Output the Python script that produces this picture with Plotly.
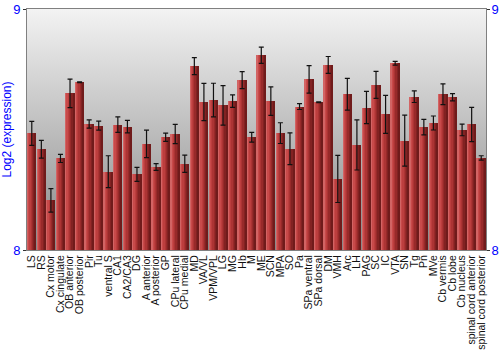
import plotly.graph_objects as go

regions = ["LS", "RS", "Cx motor", "Cx cingulate", "OB anterior", "OB posterior", "Pir", "Tu",
           "ventral S", "CA1", "CA2/CA3", "DG", "A anterior", "A posterior", "GP", "CPu lateral",
           "CPu medial", "MD", "VA/VL", "VPM/VPL", "LG", "MG", "Hb", "M", "ME", "SCN", "MPA", "SO",
           "Pa", "SPa ventral", "SPa dorsal", "DM", "VMH", "Arc", "LH", "PAG", "SC", "IC", "VTA",
           "SN", "Tg", "Pn", "MVe", "Cb vermis", "Cb lobe", "Cb nucleus", "spinal cord anterior",
           "spinal cord posterior"]
expression = [8.484, 8.418, 8.206, 8.380, 8.650, 8.696, 8.523, 8.516,
              8.325, 8.520, 8.512, 8.314, 8.440, 8.344, 8.468, 8.481,
              8.358, 8.763, 8.614, 8.622, 8.600, 8.618, 8.705, 8.468, 8.808, 8.618, 8.485, 8.420,
              8.595, 8.708, 8.613, 8.768, 8.295, 8.646, 8.436, 8.591, 8.685, 8.563, 8.775,
              8.454, 8.636, 8.510, 8.527, 8.646, 8.634, 8.498, 8.521, 8.382]
errors = [0.050, 0.037, 0.049, 0.017, 0.059, 0.002, 0.017, 0.019,
          0.066, 0.032, 0.026, 0.029, 0.057, 0.014, 0.017, 0.040,
          0.036, 0.035, 0.077, 0.070, 0.082, 0.026, 0.035, 0.020, 0.034, 0.059, 0.043, 0.066,
          0.012, 0.057, 0.002, 0.035, 0.098, 0.066, 0.104, 0.067, 0.056, 0.079, 0.008,
          0.106, 0.024, 0.032, 0.029, 0.043, 0.015, 0.024, 0.071, 0.009]
y_ticks = [8, 9]

n = len(regions)
xs = list(range(n))
blue = "#0000ff"

fig = go.Figure()

# background gradient (main subplot, drawn beneath the overlay)
fig.add_trace(go.Scatter(
    x=[-0.5, n - 0.5, n - 0.5, -0.5], y=[8, 8, 9, 9], fill="toself", mode="lines",
    line=dict(width=0), fillgradient=dict(type="vertical", colorscale=[[0, "#888888"], [1, "#f3f3f3"]]),
    hoverinfo="skip", showlegend=False, xaxis="x", yaxis="y"))

# bars built from slices to imitate a cylinder shading
shades = ["#d26464", "#c84a4a", "#bc3e3e", "#ac3434", "#982a2a", "#822222", "#701b1b"]
total_w = 0.9
sw = total_w / len(shades)
for i, c in enumerate(shades):
    fig.add_trace(go.Bar(
        x=xs, y=[v - 8 for v in expression], base=8, width=sw, offset=-total_w / 2 + i * sw,
        marker=dict(color=c, line=dict(width=0)), showlegend=False, hoverinfo="skip",
        xaxis="x", yaxis="y2"))

fig.add_trace(go.Scatter(
    x=xs, y=expression, mode="markers", marker=dict(size=1, color="rgba(0,0,0,0)"),
    error_y=dict(type="data", array=errors, color="#111111", thickness=1.2, width=2.5),
    showlegend=False, xaxis="x", yaxis="y2"))

fig.update_layout(
    width=500, height=350,
    margin=dict(l=27, r=14, t=9, b=100),
    paper_bgcolor="white", plot_bgcolor="white",
    barmode="overlay", bargap=0,
    xaxis=dict(range=[-0.5, n - 0.5], tickmode="array", tickvals=xs, ticktext=regions,
               tickangle=-90, showgrid=False, zeroline=False, ticks="", automargin=False,
               tickfont=dict(family="Liberation Sans, Arial", size=10.5, color="#111111"),
               showline=True, linecolor="#808080", mirror=True),
    yaxis=dict(range=[8, 9], tickvals=y_ticks, showgrid=False, zeroline=False, automargin=False,
               ticks="outside", ticklen=3, tickcolor="#333333",
               tickfont=dict(family="Liberation Sans, Arial", size=13, color=blue),
               showline=True, linecolor="#808080",
               title=dict(text="Log2 (expression)", standoff=2,
                          font=dict(family="Liberation Sans, Arial", size=12, color=blue))),
    yaxis2=dict(range=[8, 9], tickvals=y_ticks, overlaying="y", side="right", automargin=False,
                showgrid=False, zeroline=False, ticks="outside", ticklen=3, tickcolor="#333333",
                ticklabelstandoff=-1,
                tickfont=dict(family="Liberation Sans, Arial", size=13, color=blue),
                showline=True, linecolor="#808080"),
)

fig.write_html("out.html")
